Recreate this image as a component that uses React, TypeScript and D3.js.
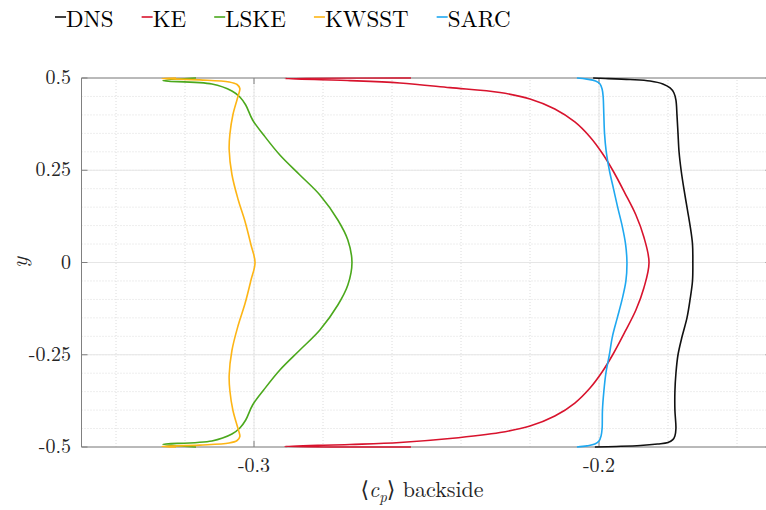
import React, { useEffect, useRef } from 'react'
import * as d3 from 'd3'

// <c_p> on the back face vs. y, one curve per model
const seriesNames = ['DNS', 'KE', 'LSKE', 'KWSST', 'SARC']
const seriesColors = ['#111111', '#d8132d', '#4ba81c', '#fdb515', '#1fa8f0']

// pairs are [cp, y], going from the bottom edge to the top edge
const dns: [number, number][] = [
  [-0.2012, -0.5], [-0.195, -0.4985], [-0.188, -0.496], [-0.183, -0.492], [-0.18, -0.488],
  [-0.1786, -0.48], [-0.178, -0.47], [-0.1777, -0.45], [-0.178, -0.4], [-0.178, -0.35],
  [-0.1777, -0.3], [-0.1771, -0.25], [-0.1759, -0.2], [-0.1745, -0.15], [-0.1736, -0.1],
  [-0.1729, -0.05], [-0.1728, 0], [-0.1729, 0.05], [-0.1736, 0.1], [-0.1745, 0.15],
  [-0.1754, 0.2], [-0.1762, 0.25], [-0.1768, 0.3], [-0.1771, 0.35], [-0.1774, 0.4],
  [-0.1777, 0.44], [-0.1783, 0.46], [-0.1794, 0.473], [-0.1815, 0.484], [-0.1852, 0.492],
  [-0.191, 0.496], [-0.1997, 0.4992], [-0.2017, 0.5],
]

const ke: [number, number][] = [
  [-0.2545, -0.5], [-0.291, -0.4985], [-0.2722, -0.4932], [-0.2577, -0.4878], [-0.2432, -0.477],
  [-0.2287, -0.4607], [-0.22, -0.4431], [-0.2128, -0.416], [-0.207, -0.3808], [-0.2026, -0.3401],
  [-0.1991, -0.2967], [-0.1959, -0.248], [-0.1925, -0.1883], [-0.1893, -0.1287], [-0.187, -0.0691],
  [-0.1855, 0], [-0.187, 0.0691], [-0.1893, 0.1287], [-0.1925, 0.1883], [-0.1959, 0.248],
  [-0.1991, 0.2967], [-0.2026, 0.3401], [-0.207, 0.3808], [-0.2128, 0.416], [-0.22, 0.4431],
  [-0.2287, 0.4607], [-0.2432, 0.474], [-0.2577, 0.4865], [-0.2722, 0.493], [-0.291, 0.4985],
  [-0.2545, 0.5],
]

const lske: [number, number][] = [
  [-0.3168, -0.5], [-0.3264, -0.4927], [-0.3122, -0.4837], [-0.3064, -0.4648], [-0.3041, -0.4485],
  [-0.3024, -0.4268], [-0.3004, -0.3862], [-0.2972, -0.3455], [-0.2925, -0.2913], [-0.2867, -0.2371],
  [-0.2809, -0.1829], [-0.2757, -0.1152], [-0.2728, -0.061], [-0.2716, 0], [-0.2728, 0.061],
  [-0.2757, 0.1152], [-0.2809, 0.1829], [-0.2867, 0.2371], [-0.2925, 0.2913], [-0.2972, 0.3455],
  [-0.3004, 0.3862], [-0.3024, 0.4268], [-0.3041, 0.4485], [-0.3064, 0.4648], [-0.3122, 0.4837],
  [-0.3264, 0.4927], [-0.3168, 0.5],
]

const kwsst: [number, number][] = [
  [-0.3226, -0.5], [-0.3267, -0.4985], [-0.3157, -0.495], [-0.3072, -0.4894], [-0.3049, -0.4824],
  [-0.3041, -0.4715], [-0.3043, -0.4607], [-0.3049, -0.4417], [-0.3061, -0.4011], [-0.307, -0.3469],
  [-0.3072, -0.3062], [-0.3064, -0.2385], [-0.3046, -0.1707], [-0.3026, -0.1111], [-0.3009, -0.0488],
  [-0.2997, 0], [-0.3009, 0.0488], [-0.3026, 0.1111], [-0.3046, 0.1707], [-0.3064, 0.2385],
  [-0.3072, 0.3062], [-0.307, 0.3469], [-0.3061, 0.4011], [-0.3049, 0.4417], [-0.3043, 0.4607],
  [-0.3041, 0.4715], [-0.3049, 0.4824], [-0.3072, 0.4894], [-0.3157, 0.495], [-0.3267, 0.4985],
  [-0.3226, 0.5],
]

const sarc: [number, number][] = [
  [-0.2064, -0.5], [-0.2035, -0.497], [-0.2012, -0.492], [-0.2, -0.484], [-0.1994, -0.47],
  [-0.1991, -0.45], [-0.199, -0.4], [-0.1986, -0.35], [-0.198, -0.3], [-0.197, -0.25],
  [-0.1961, -0.2], [-0.1947, -0.15], [-0.1933, -0.1], [-0.1922, -0.05], [-0.1919, 0],
  [-0.1923, 0.05], [-0.1933, 0.1], [-0.1946, 0.15], [-0.1958, 0.2], [-0.197, 0.25],
  [-0.1979, 0.3], [-0.1984, 0.35], [-0.1986, 0.4], [-0.1988, 0.45], [-0.1991, 0.47],
  [-0.1997, 0.484], [-0.201, 0.492], [-0.2035, 0.497], [-0.2064, 0.5],
]

const allSeries = [dns, ke, lske, kwsst, sarc]

const xTicks = [-0.3, -0.2]
const xTickLabels = ['-0.3', '-0.2']
const yTicks = [-0.5, -0.25, 0, 0.25, 0.5]
const yTickLabels = ['-0.5', '-0.25', '0', '0.25', '0.5']

const W = 766
const H = 510
const font =
  "'Latin Modern Roman', 'CMU Serif', 'Liberation Serif', 'DejaVu Serif', 'Noto Serif', 'FreeSerif', 'Times New Roman', serif"

export default function App() {
  const ref = useRef<SVGSVGElement>(null)

  useEffect(() => {
    const svg = d3.select(ref.current)
    svg.selectAll('*').remove()

    const x = d3.scaleLinear().domain([-0.35, -0.15]).range([81.5, 771.5])
    const y = d3.scaleLinear().domain([-0.5, 0.5]).range([447, 78])
    const [x0, x1] = x.range()
    const [y0, y1] = y.range()

    svg.append('rect').attr('width', W).attr('height', H).attr('fill', '#fff')

    // minor grid, dotted
    const grid = svg.append('g')
    grid.selectAll('line.mx')
      .data(d3.range(-0.34, -0.15, 0.02))
      .join('line')
      .attr('x1', d => x(d)).attr('x2', d => x(d))
      .attr('y1', y0).attr('y2', y1)
      .attr('stroke', '#dcdcdc').attr('stroke-dasharray', '1,2')
    grid.selectAll('line.my')
      .data(d3.range(-0.45, 0.5, 0.05))
      .join('line')
      .attr('x1', x0).attr('x2', x1)
      .attr('y1', d => y(d)).attr('y2', d => y(d))
      .attr('stroke', '#dcdcdc').attr('stroke-dasharray', '1,2')

    // major grid
    xTicks.forEach(t => {
      grid.append('line')
        .attr('x1', x(t)).attr('x2', x(t)).attr('y1', y0).attr('y2', y1)
        .attr('stroke', '#e6e6e6').attr('stroke-width', 1)
    })
    yTicks.forEach(t => {
      grid.append('line')
        .attr('x1', x0).attr('x2', x1).attr('y1', y(t)).attr('y2', y(t))
        .attr('stroke', '#e6e6e6').attr('stroke-width', 1)
    })

    // axes box (left, top, bottom, right)
    const axisColor = '#808080'
    const ax = svg.append('g').attr('stroke', axisColor).attr('stroke-width', 1)
    ax.append('line').attr('x1', x0).attr('x2', x1).attr('y1', y0).attr('y2', y0)
    ax.append('line').attr('x1', x0).attr('x2', x1).attr('y1', y1).attr('y2', y1)
    ax.append('line').attr('x1', x0).attr('x2', x0).attr('y1', y0).attr('y2', y1)
    ax.append('line').attr('x1', x1).attr('x2', x1).attr('y1', y0).attr('y2', y1)
    xTicks.forEach(t => {
      ax.append('line').attr('x1', x(t)).attr('x2', x(t)).attr('y1', y0).attr('y2', y0 - 6)
      ax.append('line').attr('x1', x(t)).attr('x2', x(t)).attr('y1', y1).attr('y2', y1 + 6)
    })
    yTicks.forEach(t => {
      ax.append('line').attr('x1', x0).attr('x2', x0 + 6).attr('y1', y(t)).attr('y2', y(t))
      ax.append('line').attr('x1', x1).attr('x2', x1 - 6).attr('y1', y(t)).attr('y2', y(t))
    })

    // tick labels
    svg.append('g').selectAll('text')
      .data(xTicks)
      .join('text')
      .attr('x', d => x(d)).attr('y', 472)
      .attr('text-anchor', 'middle')
      .attr('font-family', font).attr('font-size', 20).attr('fill', '#262626')
      .text((d, i) => xTickLabels[i])
    svg.append('g').selectAll('text')
      .data(yTicks)
      .join('text')
      .attr('x', 71).attr('y', d => y(d) + 6)
      .attr('text-anchor', 'end')
      .attr('font-family', font).attr('font-size', 20).attr('fill', '#262626')
      .text((d, i) => yTickLabels[i])

    // axis titles
    const xl = svg.append('text')
      .attr('x', 422).attr('y', 497)
      .attr('text-anchor', 'middle')
      .attr('font-family', font).attr('font-size', 22).attr('fill', '#262626')
    xl.append('tspan').text('\u27E8')
    xl.append('tspan').attr('font-style', 'italic').text('c')
    xl.append('tspan').attr('font-style', 'italic').attr('font-size', 15).attr('dy', 5).text('p')
    xl.append('tspan').attr('dy', -5).text('\u27E9 backside')

    svg.append('text')
      .attr('transform', `translate(27, ${y(0)}) rotate(-90)`)
      .attr('text-anchor', 'middle')
      .attr('font-family', font).attr('font-size', 23).attr('font-style', 'italic')
      .attr('fill', '#262626')
      .text('y')

    // curves
    const line = d3.line<[number, number]>()
      .x(d => x(d[0]))
      .y(d => y(d[1]))
      .curve(d3.curveCatmullRom.alpha(0.5))

    allSeries.forEach((s, i) => {
      svg.append('path')
        .attr('d', line(s))
        .attr('fill', 'none')
        .attr('stroke', seriesColors[i])
        .attr('stroke-width', 1.6)
        .attr('stroke-linejoin', 'round')
    })

    // legend across the top
    const legend = svg.append('g')
    let cx = 55
    seriesNames.forEach((name, i) => {
      legend.append('line')
        .attr('x1', cx).attr('x2', cx + 11).attr('y1', 17).attr('y2', 17)
        .attr('stroke', seriesColors[i]).attr('stroke-width', 1.6)
      const t = legend.append('text')
        .attr('x', cx + 11).attr('y', 27)
        .attr('font-family', font).attr('font-size', 23).attr('fill', '#000')
        .text(name)
      const w = (t.node() as SVGTextElement).getComputedTextLength()
      cx += 11 + w + 28
    })
  }, [])

  return (
    <svg
      ref={ref}
      width={W}
      height={H}
      style={{ position: 'absolute', left: 0, top: 0, display: 'block' }}
    />
  )
}
